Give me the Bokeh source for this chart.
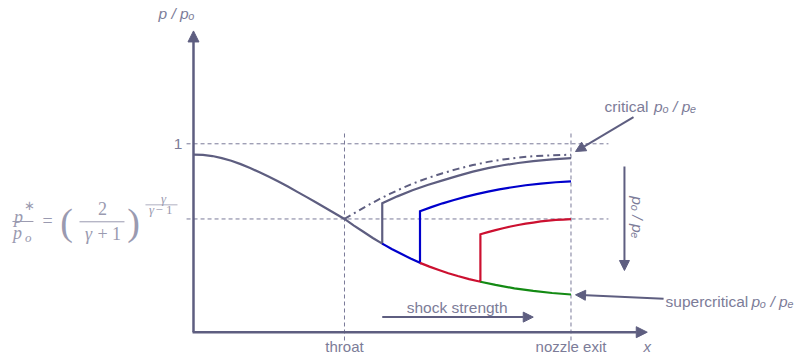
import math

from bokeh.core.properties import value
from bokeh.embed import file_html
from bokeh.models import Arrow, NormalHead, Range1d
from bokeh.plotting import figure
from bokeh.resources import INLINE

# ---------------------------------------------------------------------------
# Nozzle pressure distribution p/p0 along the axis x
# (inlet at x = 0, throat at x = 1, nozzle exit at x = 2.5)
# ---------------------------------------------------------------------------
x_throat = 1.0
x_exit = 2.5
p_star_ratio = 0.601          # p*/p0 level (sonic condition at the throat)

# isentropic branch: subsonic up to the throat, supersonic after it
base_x = [0.0, 0.0625, 0.125, 0.1875, 0.25, 0.3125, 0.375, 0.4375, 0.5, 0.5625,
          0.625, 0.6875, 0.75, 0.8125, 0.875, 0.9375, 1.0,
          1.0625, 1.125, 1.1875, 1.25, 1.3125, 1.375, 1.4375, 1.5, 1.5625,
          1.625, 1.6875, 1.75, 1.825, 1.9, 2.0, 2.125, 2.25, 2.375, 2.5]
base_p = [0.943, 0.941, 0.935, 0.924, 0.910, 0.892, 0.871, 0.849, 0.825, 0.800,
          0.773, 0.745, 0.717, 0.688, 0.659, 0.630, 0.601,
          0.566, 0.533, 0.500, 0.470, 0.442, 0.416, 0.391, 0.368, 0.348,
          0.330, 0.313, 0.298, 0.282, 0.268, 0.251, 0.233, 0.219, 0.208, 0.200]

# critical back pressure: subsonic recompression after the throat (dash-dot)
crit_x = [1.0, 1.075, 1.15, 1.225, 1.3, 1.375, 1.45, 1.55, 1.65, 1.75, 1.85,
          1.95, 2.05, 2.15, 2.25, 2.375, 2.5]
crit_p = [0.601, 0.637, 0.671, 0.704, 0.734, 0.762, 0.788, 0.818, 0.844, 0.867,
          0.887, 0.904, 0.917, 0.927, 0.934, 0.939, 0.942]

# normal shocks in the diverging part and the flow behind each of them
shock_x = [1.25, 1.5, 1.9]
after1_x = [1.25, 1.35, 1.45, 1.55, 1.65, 1.75, 1.85, 1.95, 2.05, 2.15, 2.25,
            2.375, 2.5]
after1_p = [0.685, 0.721, 0.753, 0.781, 0.806, 0.830, 0.852, 0.871, 0.886,
            0.898, 0.908, 0.917, 0.924]
after2_x = [1.5, 1.575, 1.65, 1.725, 1.8, 1.875, 1.95, 2.025, 2.1, 2.2, 2.3,
            2.4, 2.5]
after2_p = [0.642, 0.664, 0.684, 0.702, 0.718, 0.733, 0.746, 0.758, 0.768,
            0.780, 0.789, 0.796, 0.801]
after3_x = [1.9, 1.95, 2.0, 2.05, 2.1, 2.15, 2.2, 2.25, 2.3, 2.35, 2.4, 2.45, 2.5]
after3_p = [0.520, 0.531, 0.542, 0.552, 0.561, 0.569, 0.576, 0.582, 0.588,
            0.592, 0.596, 0.598, 0.600]

y_ticks = [1.0]
y_tick_labels = ["1"]

# ---------------------------------------------------------------------------
GREY = "#5e5e80"
GUIDE = "#7a7a98"
LABEL = "#7c7c98"
FORMULA = "#9a9ab0"
BLUE = "#0000cc"
RED = "#cc1030"
GREEN = "#138a13"

SANS = value("Liberation Sans")
SERIF = value("Liberation Serif")

p = figure(width=797, height=355, output_backend="svg", toolbar_location=None,
           x_range=Range1d(-1.2781, 4.0), y_range=Range1d(-0.1237, 1.7606),
           min_border=0, min_border_left=0, min_border_right=0,
           min_border_top=0, min_border_bottom=0)
p.axis.visible = False
p.grid.visible = False
p.outline_line_color = None
p.background_fill_color = "white"
p.border_fill_color = "white"

# --- dashed guide lines -----------------------------------------------------
for level in [1.0, p_star_ratio]:
    p.line([-0.046, 2.748], [level, level], line_color=GUIDE, line_width=1,
           line_dash="4 3")
for xv in [x_throat, x_exit]:
    p.line([xv, xv], [-0.044, 1.071], line_color=GUIDE, line_width=1,
           line_dash="4 3")

# --- pressure curves ----------------------------------------------------------
def segment(x0, x1):
    idx = [i for i, xv in enumerate(base_x) if x0 <= xv <= x1]
    return [base_x[i] for i in idx], [base_p[i] for i in idx]

p.line(crit_x, crit_p, line_color=GREY, line_width=2, line_dash="7 4 2 4")

branches = [
    (0.0, shock_x[0], after1_x, after1_p, GREY),
    (shock_x[0], shock_x[1], after2_x, after2_p, BLUE),
    (shock_x[1], shock_x[2], after3_x, after3_p, RED),
]
for x0, x1, ax, ap, col in branches:
    sx, sp = segment(x0, x1)
    xs = sx + [x1] + ax
    ps = sp + [ap[0]] + ap
    p.line(xs, ps, line_color=col, line_width=2.2, line_join="miter")

gx, gp = segment(shock_x[2], x_exit)
p.line(gx, gp, line_color=GREEN, line_width=2.2)

# --- axes with arrow heads ----------------------------------------------------
def arrow(x0, y0, x1, y1, lw, size):
    p.add_layout(Arrow(x_start=x0, y_start=y0, x_end=x1, y_end=y1,
                       line_color=GREY, line_width=lw,
                       end=NormalHead(size=size, fill_color=GREY,
                                      line_color=GREY, line_width=1)))

arrow(0.0, 0.0, 0.0, 1.599, 2.5, 11)
arrow(-0.006, 0.0, 3.005, 0.0, 2.5, 11)
arrow(1.25, 0.08, 2.25, 0.08, 2, 10)          # shock strength
arrow(2.854, 0.880, 2.854, 0.3275, 2, 10)     # p0/pe direction
arrow(2.914, 1.141, 2.530, 0.959, 2, 10)      # critical
arrow(3.113, 0.177, 2.530, 0.1985, 2, 10)     # supercritical

# --- text labels --------------------------------------------------------------
def label(x, y, text, size="15.5px", style="normal", align="left",
          color=LABEL, font=SANS, angle=0.0):
    p.text(x=[x], y=[y], text=[text], text_font=font,
           text_font_size=value(size), text_font_style=style,
           text_align=align, text_baseline="middle", text_color=color,
           angle=angle)

for yv, yl in zip(y_ticks, y_tick_labels):
    label(-0.073, yv, yl, align="right")

label(-0.232, 1.694, "p / pₒ", style="italic")
label(3.005, -0.0759, "x", size="15px", style="italic", align="center")
label(x_throat, -0.0759, "throat", size="15px", align="center")
label(x_exit, -0.0759, "nozzle exit", size="15px", align="center")
label(1.746, 0.1295, "shock strength", align="center")
label(2.722, 1.1974, "critical")
label(3.05, 1.1974, "pₒ / pₑ", style="italic")
label(3.126, 0.1614, "supercritical")
label(3.695, 0.1614, "pₒ / pₑ", style="italic")
label(2.94, 0.609, "pₒ / pₑ", style="italic", align="center",
      angle=-math.pi / 2)

# --- p*/p0 = (2/(gamma+1))^(gamma/(gamma-1)) -----------------------------------
label(-1.159, 0.6136, "p", size="18px", style="italic", align="center",
      color=FORMULA, font=SERIF)
label(-1.089, 0.675, "∗", size="13px", align="center", color=FORMULA,
      font=SERIF)
p.line([-1.199, -1.060], [0.5876, 0.5876], line_color=FORMULA, line_width=1)
label(-1.165, 0.524, "p", size="18px", style="italic", align="center",
      color=FORMULA, font=SERIF)
label(-1.095, 0.503, "o", size="13px", style="italic", align="center",
      color=FORMULA, font=SERIF)
label(-0.967, 0.5876, "=", size="18px", align="center", color=FORMULA,
      font=SERIF)
label(-0.841, 0.583, "(", size="38px", align="center", color=FORMULA,
      font=SERIF)
label(-0.603, 0.6566, "2", size="18px", align="center", color=FORMULA,
      font=SERIF)
p.line([-0.755, -0.457], [0.586, 0.586], line_color=FORMULA, line_width=1)
label(-0.695, 0.5186, "γ", size="18px", style="italic", align="center",
      color=FORMULA, font=SERIF)
label(-0.636, 0.5186, "+ 1", size="18px", color=FORMULA, font=SERIF)
label(-0.397, 0.583, ")", size="38px", align="center", color=FORMULA,
      font=SERIF)
label(-0.199, 0.707, "γ", size="13px", style="italic", align="center",
      color=FORMULA, font=SERIF)
p.line([-0.318, -0.106], [0.676, 0.676], line_color=FORMULA, line_width=0.8)
label(-0.278, 0.6486, "γ", size="13px", style="italic", align="center",
      color=FORMULA, font=SERIF)
label(-0.2517, 0.6486, "− 1", size="13px", color=FORMULA, font=SERIF)

open("out.html", "w").write(file_html(p, INLINE))
